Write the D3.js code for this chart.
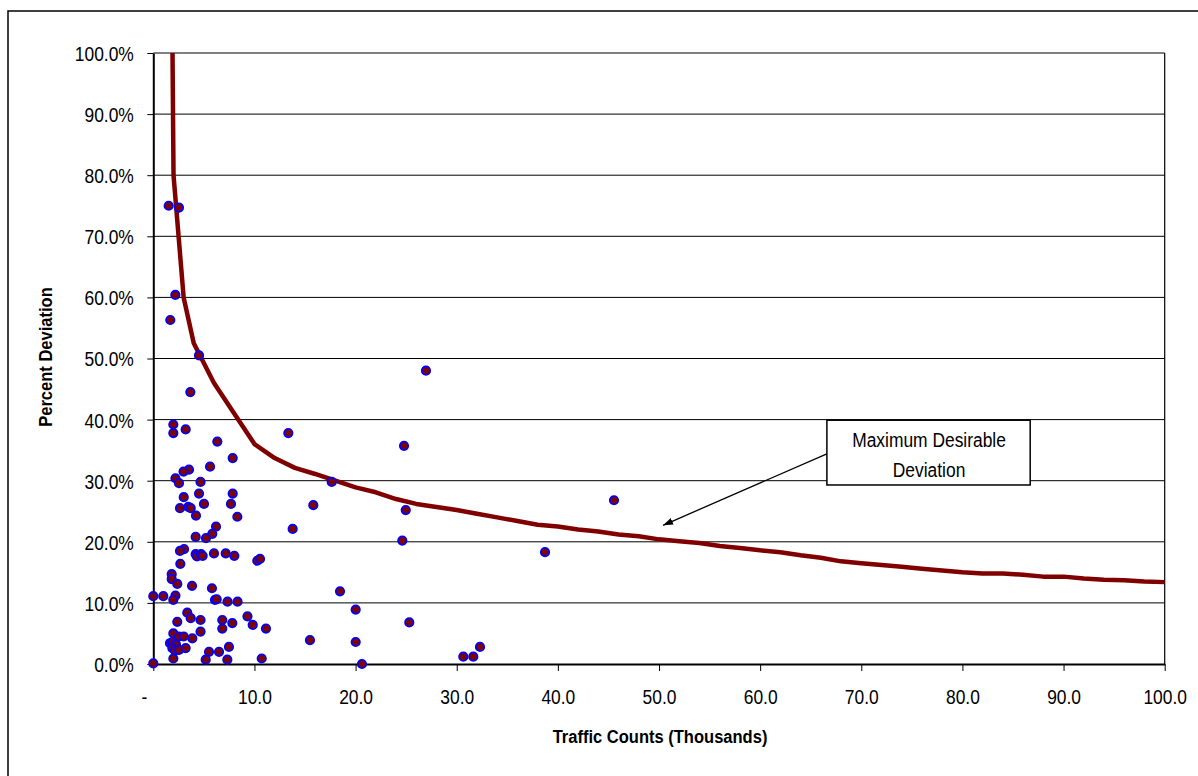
<!DOCTYPE html>
<html>
<head>
<meta charset="utf-8">
<script src="https://cdn.jsdelivr.net/npm/d3@7"></script>
<style>
body { margin: 0; background: #fff; }
svg text { font-family: "Liberation Sans", Arial, sans-serif; }
</style>
</head>
<body>
<div id="chart"></div>
<script>
// observed counts (thousands) and % deviation
var countsK = [1.52,2.54,2.18,1.68,4.52,3.66,1.98,1.98,3.20,6.33,
    13.35,26.96,24.79,7.85,5.61,3.53,2.99,2.19,2.54,4.67,
    17.64,45.55,4.52,3.01,7.85,7.68,5.01,2.64,3.46,3.70,
    4.22,8.31,15.82,24.96,6.20,5.83,4.19,5.21,13.78,24.62,
    38.73,3.04,2.64,4.19,4.32,4.72,4.88,6.00,7.16,8.01,
    10.28,10.55,2.67,1.82,1.82,2.37,3.83,5.80,18.46,0.00,
    0.99,2.19,1.98,6.10,6.27,7.34,8.33,20.01,3.36,3.70,
    4.67,2.37,6.82,9.31,9.83,7.81,6.82,11.14,25.31,4.67,
    1.98,2.54,3.01,3.86,15.49,20.01,1.65,1.88,2.24,1.88,
    2.15,2.54,3.20,7.48,5.51,6.50,32.30,1.98,5.18,7.32,
    10.72,30.65,31.64,20.63,0.00];
var deviationPct = [75.0,74.7,60.4,56.3,50.5,44.5,39.2,37.8,38.4,36.4,
    37.8,48.0,35.7,33.7,32.3,31.8,31.5,30.4,29.6,29.8,
    29.8,26.8,27.9,27.3,27.9,26.2,26.2,25.5,25.7,25.5,
    24.3,24.1,26.0,25.2,22.5,21.3,20.8,20.6,22.1,20.2,
    18.3,18.8,18.5,18.0,17.6,18.0,17.7,18.1,18.1,17.7,
    16.9,17.2,16.4,14.7,13.9,13.1,12.8,12.4,11.9,11.1,
    11.1,11.2,10.5,10.5,10.6,10.2,10.2,8.9,8.4,7.5,
    7.2,6.9,7.2,7.8,6.4,6.7,5.8,5.8,6.8,5.3,
    5.0,4.5,4.5,4.2,3.9,3.6,3.4,3.6,3.2,2.6,
    2.2,2.3,2.6,2.8,2.0,2.0,2.8,0.9,0.7,0.7,
    0.9,1.2,1.2,0.0,0.1];

// maximum desirable deviation curve
var curveK = [1.9,2,3,4,6,8,10,12,14,16,18,20,22,24,26,28,30,32,34,36,38,40,
    42,44,46,48,50,52,54,56,58,60,62,64,66,68,70,72,74,76,78,80,
    82,84,86,88,90,92,94,96,98,100];
var curvePct = [100,80,60,52.5,46,41,36,33.7,32.1,31.1,30.0,28.9,28.1,27.0,26.2,25.7,25.2,24.6,24.0,23.4,22.8,22.5,
    22.0,21.7,21.2,20.9,20.4,20.1,19.8,19.3,19.0,18.6,18.3,17.8,17.4,16.8,16.5,16.2,15.9,15.6,15.3,15.0,
    14.8,14.8,14.6,14.3,14.3,14.0,13.8,13.7,13.5,13.4];

var xTickValues = [0,10,20,30,40,50,60,70,80,90,100];
var yTickValues = [0,10,20,30,40,50,60,70,80,90,100];
var noteLines = ["Maximum Desirable", "Deviation"];

var width = 1198, height = 776;
var sx = 0.87; // text in the original is squeezed sideways

var svg = d3.select("#chart").append("svg")
    .attr("width", width)
    .attr("height", height);

// outer frame (right/bottom run off the picture)
svg.append("rect")
    .attr("x", 8).attr("y", 11)
    .attr("width", 1300).attr("height", 900)
    .style("fill", "none")
    .style("stroke", "#000")
    .style("stroke-width", 1.5);

var x = d3.scaleLinear().domain([0, 100]).range([153.3, 1164.7]);
var y = d3.scaleLinear().domain([0, 100]).range([664, 53]);

// gridlines
svg.append("g").selectAll("line")
    .data(yTickValues.filter(function(d) { return d > 0; }))
    .enter().append("line")
    .attr("x1", x(0)).attr("x2", x(100))
    .attr("y1", function(d) { return y(d); })
    .attr("y2", function(d) { return y(d); })
    .style("stroke", "#000")
    .style("stroke-width", 1);

// right edge of plot area
svg.append("line")
    .attr("x1", x(100)).attr("x2", x(100))
    .attr("y1", y(100)).attr("y2", y(0))
    .style("stroke", "#000")
    .style("stroke-width", 1.2);

// y axis
var yAxis = svg.append("g")
    .attr("transform", "translate(" + x(0) + ",0)")
    .call(d3.axisLeft(y).tickValues(yTickValues).tickSize(6).tickSizeOuter(0)
        .tickFormat(function(d) { return d.toFixed(1) + "%"; }));
yAxis.select(".domain").style("stroke-width", 2);
yAxis.selectAll("text")
    .attr("x", -19.5 / sx)
    .attr("dy", "0.37em")
    .attr("transform", "scale(" + sx + ",1)")
    .style("font-size", "20px")
    .style("font-family", "Liberation Sans, Arial, sans-serif")
    .style("fill", "#000");

// x axis
var xAxis = svg.append("g")
    .attr("transform", "translate(0," + y(0) + ")")
    .call(d3.axisBottom(x).tickValues(xTickValues).tickSize(7).tickSizeOuter(0)
        .tickFormat(function(d) { return d === 0 ? "-" : d.toFixed(1); }));
xAxis.select(".domain").style("stroke-width", 2);
xAxis.selectAll("text")
    .attr("y", 40)
    .attr("dy", 0)
    .attr("x", function(d) { return d === 0 ? -9.5 / sx : 0; })
    .attr("transform", "scale(" + sx + ",1)")
    .style("font-size", "20px")
    .style("font-family", "Liberation Sans, Arial, sans-serif")
    .style("fill", "#000");

// axis titles
svg.append("text")
    .attr("transform", "translate(660,743) scale(" + sx + ",1)")
    .attr("text-anchor", "middle")
    .style("font-size", "19px")
    .style("font-weight", "bold")
    .text("Traffic Counts (Thousands)");

svg.append("text")
    .attr("transform", "translate(52,357) rotate(-90) scale(" + sx + ",1)")
    .attr("text-anchor", "middle")
    .style("font-size", "19px")
    .style("font-weight", "bold")
    .text("Percent Deviation");

// curve
var curve = d3.zip(curveK, curvePct);
svg.append("path")
    .datum(curve)
    .attr("d", d3.line()
        .x(function(d) { return x(d[0]); })
        .y(function(d) { return y(d[1]); }))
    .style("fill", "none")
    .style("stroke", "#800000")
    .style("stroke-width", 4.5)
    .style("stroke-linejoin", "round");

// scatter points
svg.append("g").selectAll("circle")
    .data(d3.zip(countsK, deviationPct))
    .enter().append("circle")
    .attr("cx", function(d) { return x(d[0]); })
    .attr("cy", function(d) { return y(d[1]); })
    .attr("r", 4.2)
    .style("fill", "#800000")
    .style("stroke", "#0000ff")
    .style("stroke-width", 1.8);

// callout with arrow
svg.append("defs").append("marker")
    .attr("id", "arrowhead")
    .attr("markerUnits", "userSpaceOnUse")
    .attr("markerWidth", 11)
    .attr("markerHeight", 8)
    .attr("refX", 10)
    .attr("refY", 3.5)
    .attr("orient", "auto")
    .append("path")
    .attr("d", "M0,0 L10,3.5 L0,7 z")
    .style("fill", "#000");

svg.append("line")
    .attr("x1", x(66.6)).attr("y1", y(34.4))
    .attr("x2", x(50.4)).attr("y2", y(22.7))
    .style("stroke", "#000")
    .style("stroke-width", 1.3)
    .attr("marker-end", "url(#arrowhead)");

svg.append("rect")
    .attr("x", x(66.6)).attr("y", y(39.9))
    .attr("width", x(86.7) - x(66.6))
    .attr("height", y(29.3) - y(39.9))
    .style("fill", "#fff")
    .style("stroke", "#000")
    .style("stroke-width", 1.5);

svg.append("g").selectAll("text")
    .data(noteLines)
    .enter().append("text")
    .attr("transform", function(d, i) {
        return "translate(" + x(76.7) + "," + (i === 0 ? y(35.5) : y(30.6)) + ") scale(" + sx + ",1)";
    })
    .attr("text-anchor", "middle")
    .style("font-size", "20px")
    .text(function(d) { return d; });
</script>
</body>
</html>
